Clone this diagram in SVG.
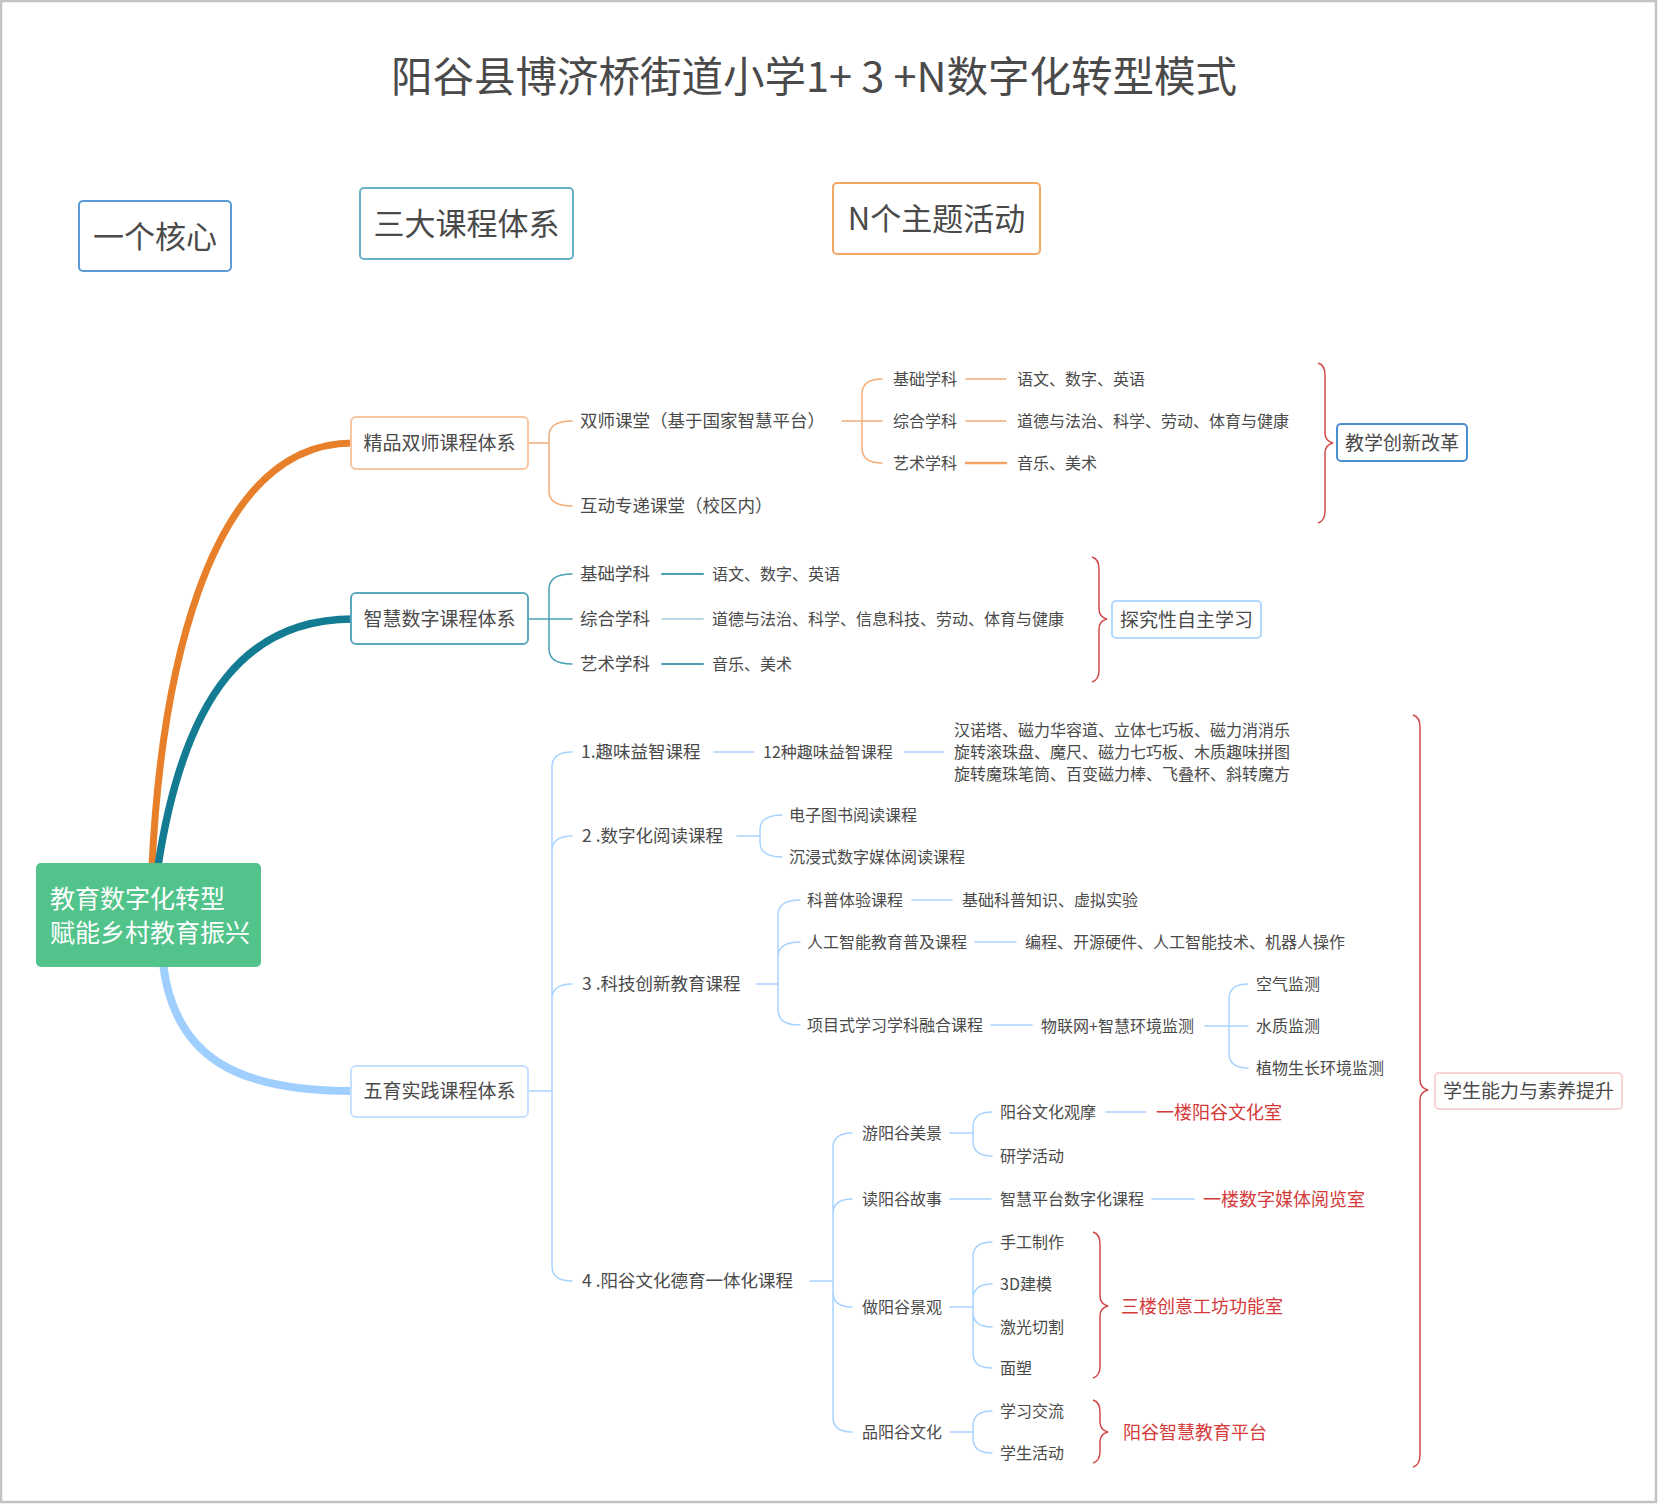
<svg xmlns="http://www.w3.org/2000/svg" width="1658" height="1504" viewBox="0 0 1658 1504">
<style>
text{font-family:"Noto Sans CJK SC","Noto Sans",sans-serif;fill:#4a4a4a;dominant-baseline:central;transform:translate(0px,-1.5px)}
.mid{text-anchor:middle}
.f16{font-size:16px}
.f17{font-size:17.5px}
.f19{font-size:19px}
.red{font-size:18px;fill:#d43a3a}
.box{fill:#fff;stroke-width:2}
.c{fill:none;stroke-linecap:round}
.or{stroke:#f4ad78;stroke-width:1.5}
.te{stroke:#4aa0b5;stroke-width:1.5}
.lb{stroke:#a8d3ff;stroke-width:1.5}
.br{fill:none;stroke:#d24a4a;stroke-width:1.5}
</style>
<rect x="1" y="1" width="1655" height="1501" fill="#fff" stroke="#c3c3c3" stroke-width="2.5"/>

<g id="title"><text x="814" y="75" class="mid" style="font-size:41.5px">阳谷县博济桥街道小学1+ 3 +N数字化转型模式</text></g>

<g id="header-core"><rect x="79" y="201" width="152" height="70" rx="4" class="box" stroke="#5b9bd5"/><text x="155" y="236" class="mid" style="font-size:31px">一个核心</text></g>
<g id="header-three"><rect x="360" y="188" width="213" height="71" rx="4" class="box" stroke="#66b1c5"/><text x="466.5" y="223" class="mid" style="font-size:31px">三大课程体系</text></g>
<g id="header-n"><rect x="833" y="183" width="207" height="71" rx="4" class="box" stroke="#f4a765"/><text x="936.5" y="218" class="mid" style="font-size:31px">N个主题活动</text></g>

<g id="connectors">
  <path class="c" d="M152,866 C160,700 200,443 353,443" stroke="#e8802b" stroke-width="7"/>
  <path class="c" d="M158,866 C185,690 250,619 353,619" stroke="#137c92" stroke-width="7.5"/>
  <path class="c" d="M163,964 C175,1060 240,1091 353,1091" stroke="#9fcfff" stroke-width="8"/>

  <path class="c or" d="M528,443 H549 M549,443 V436 Q549,421 572,421 M549,443 V491 Q549,506 572,506"/>
  <path class="c or" d="M842,421 H882 M862,421 V394 Q862,379 882,379 M862,421 V448 Q862,463 882,463"/>
  <path class="c or" d="M966,379 H1006 M966,421 H1006"/>
  <path class="c" d="M966,463 H1006" stroke="#f3a263" stroke-width="2.5"/>

  <path class="c te" d="M528,619 H572 M549,619 V589 Q549,574 572,574 M549,619 V649 Q549,664 572,664"/>
  <path class="c" d="M662,574 H703 M662,664 H703" stroke="#4aa0b5" stroke-width="2"/>
  <path class="c" d="M662,619 H703" stroke="#9fcfdc" stroke-width="1.5"/>

  <path class="c lb" d="M528,1091 H552 M552,1091 V767 Q552,752 572,752 M552,1091 V851 Q552,836 572,836 M552,1091 V999 Q552,984 572,984 M552,1091 V1266 Q552,1281 572,1281"/>
  <path class="c lb" d="M714,752 H754 M904,752 H944"/>
  <path class="c lb" d="M737,836 H760 M760,836 V830 Q760,815 782,815 M760,836 V842 Q760,857 782,857"/>
  <path class="c lb" d="M757,984 H778 M778,984 V915 Q778,900 800,900 M778,984 V957 Q778,942 800,942 M778,984 V1010 Q778,1025 800,1025"/>
  <path class="c lb" d="M912,900 H952 M975,942 H1016 M991,1025 H1032"/>
  <path class="c lb" d="M1205,1026 H1248 M1229,1026 V999 Q1229,984 1248,984 M1229,1026 V1053 Q1229,1068 1248,1068"/>
  <path class="c lb" d="M810,1281 H833 M833,1281 V1148 Q833,1133 852,1133 M833,1281 V1214 Q833,1199 852,1199 M833,1281 V1292 Q833,1307 852,1307 M833,1281 V1417 Q833,1432 852,1432"/>
  <path class="c lb" d="M950,1133 H973 M973,1133 V1127 Q973,1112 992,1112 M973,1133 V1141 Q973,1156 992,1156 M1106,1112 H1146"/>
  <path class="c lb" d="M950,1199 H991 M1152,1199 H1194"/>
  <path class="c lb" d="M950,1307 H973 M973,1307 V1257 Q973,1242 992,1242 M973,1307 V1299 Q973,1284 992,1284 M973,1307 V1312 Q973,1327 992,1327 M973,1307 V1353 Q973,1368 992,1368"/>
  <path class="c lb" d="M950,1432 H973 M973,1432 V1426 Q973,1411 992,1411 M973,1432 V1438 Q973,1453 992,1453"/>

  <path class="br" d="M1318,363 Q1325,365 1325,375 V433 Q1325,441 1333,443 Q1325,445 1325,453 V511 Q1325,521 1318,523"/>
  <path class="br" d="M1092,557 Q1099,559 1099,569 V609 Q1099,617 1107,619 Q1099,621 1099,629 V670 Q1099,680 1092,682"/>
  <path class="br" d="M1413,715 Q1420,717 1420,727 V1080 Q1420,1088 1428,1090 Q1420,1092 1420,1100 V1455 Q1420,1465 1413,1467"/>
  <path class="br" d="M1093,1232 Q1100,1234 1100,1244 V1296 Q1100,1304 1108,1306 Q1100,1308 1100,1316 V1366 Q1100,1376 1093,1378"/>
  <path class="br" d="M1093,1400 Q1100,1402 1100,1412 V1422 Q1100,1430 1108,1432 Q1100,1434 1100,1442 V1451 Q1100,1461 1093,1463"/>
</g>

<g id="central"><rect x="36" y="863" width="225" height="104" rx="5" fill="#52c48b"/><text x="50" y="898" style="font-size:25px;fill:#fff">教育数字化转型</text><text x="50" y="932" style="font-size:25px;fill:#fff">赋能乡村教育振兴</text></g>

<g id="branch-jingpin"><rect x="351" y="417" width="177" height="52" rx="5" class="box" stroke="#f7c6a0"/><text x="439.5" y="443" class="mid f19">精品双师课程体系</text></g>
<g id="branch-zhihui"><rect x="351" y="593" width="177" height="51" rx="5" class="box" stroke="#5aa9bd"/><text x="439.5" y="619" class="mid f19">智慧数字课程体系</text></g>
<g id="branch-wuyu"><rect x="351" y="1066" width="177" height="51" rx="5" class="box" stroke="#c6e1ff"/><text x="439.5" y="1091" class="mid f19">五育实践课程体系</text></g>

<g id="jingpin-children">
  <text x="580" y="421" class="f17">双师课堂（基于国家智慧平台）</text>
  <text x="580" y="506" class="f17">互动专递课堂（校区内）</text>
  <text x="893" y="379" class="f16">基础学科</text>
  <text x="893" y="421" class="f16">综合学科</text>
  <text x="893" y="463" class="f16">艺术学科</text>
  <text x="1017" y="379" class="f16">语文、数字、英语</text>
  <text x="1017" y="421" class="f16">道德与法治、科学、劳动、体育与健康</text>
  <text x="1017" y="463" class="f16">音乐、美术</text>
</g>
<g id="summary-jiaoxue"><rect x="1337" y="424" width="130" height="37" rx="4" class="box" stroke="#4a8fd0"/><text x="1402" y="442.5" class="mid f19">教学创新改革</text></g>

<g id="zhihui-children">
  <text x="580" y="574" class="f17">基础学科</text>
  <text x="580" y="619" class="f17">综合学科</text>
  <text x="580" y="664" class="f17">艺术学科</text>
  <text x="712" y="574" class="f16">语文、数字、英语</text>
  <text x="712" y="619" class="f16">道德与法治、科学、信息科技、劳动、体育与健康</text>
  <text x="712" y="664" class="f16">音乐、美术</text>
</g>
<g id="summary-tanjiu"><rect x="1112" y="601" width="149" height="37" rx="4" class="box" stroke="#b3d9ff"/><text x="1186.5" y="619.5" class="mid f19">探究性自主学习</text></g>

<g id="wuyu-children">
  <text x="581" y="752" class="f17">1.趣味益智课程</text>
  <text x="582" y="836" class="f17">2 .数字化阅读课程</text>
  <text x="582" y="984" class="f17">3 .科技创新教育课程</text>
  <text x="582" y="1281" class="f17">4 .阳谷文化德育一体化课程</text>
  <text x="763" y="752" class="f16">12种趣味益智课程</text>
  <text x="954" y="730" class="f16">汉诺塔、磁力华容道、立体七巧板、磁力消消乐</text>
  <text x="954" y="752" class="f16">旋转滚珠盘、魔尺、磁力七巧板、木质趣味拼图</text>
  <text x="954" y="774" class="f16">旋转魔珠笔筒、百变磁力棒、飞叠杯、斜转魔方</text>
  <text x="789" y="815" class="f16">电子图书阅读课程</text>
  <text x="789" y="857" class="f16">沉浸式数字媒体阅读课程</text>
  <text x="807" y="900" class="f16">科普体验课程</text>
  <text x="807" y="942" class="f16">人工智能教育普及课程</text>
  <text x="807" y="1025" class="f16">项目式学习学科融合课程</text>
  <text x="962" y="900" class="f16">基础科普知识、虚拟实验</text>
  <text x="1025" y="942" class="f16">编程、开源硬件、人工智能技术、机器人操作</text>
  <text x="1041" y="1026" class="f16">物联网+智慧环境监测</text>
  <text x="1256" y="984" class="f16">空气监测</text>
  <text x="1256" y="1026" class="f16">水质监测</text>
  <text x="1256" y="1068" class="f16">植物生长环境监测</text>
  <text x="862" y="1133" class="f16">游阳谷美景</text>
  <text x="862" y="1199" class="f16">读阳谷故事</text>
  <text x="862" y="1307" class="f16">做阳谷景观</text>
  <text x="862" y="1432" class="f16">品阳谷文化</text>
  <text x="1000" y="1112" class="f16">阳谷文化观摩</text>
  <text x="1000" y="1156" class="f16">研学活动</text>
  <text x="1000" y="1199" class="f16">智慧平台数字化课程</text>
  <text x="1000" y="1242" class="f16">手工制作</text>
  <text x="1000" y="1284" class="f16">3D建模</text>
  <text x="1000" y="1327" class="f16">激光切割</text>
  <text x="1000" y="1368" class="f16">面塑</text>
  <text x="1000" y="1411" class="f16">学习交流</text>
  <text x="1000" y="1453" class="f16">学生活动</text>
  <text x="1156" y="1112" class="red">一楼阳谷文化室</text>
  <text x="1203" y="1199" class="red">一楼数字媒体阅览室</text>
  <text x="1121" y="1306" class="red">三楼创意工坊功能室</text>
  <text x="1123" y="1432" class="red">阳谷智慧教育平台</text>
</g>
<g id="summary-xuesheng"><rect x="1435" y="1073" width="187" height="36" rx="4" class="box" stroke="#f9d3d3"/><text x="1528.5" y="1091" class="mid f19">学生能力与素养提升</text></g>
</svg>
